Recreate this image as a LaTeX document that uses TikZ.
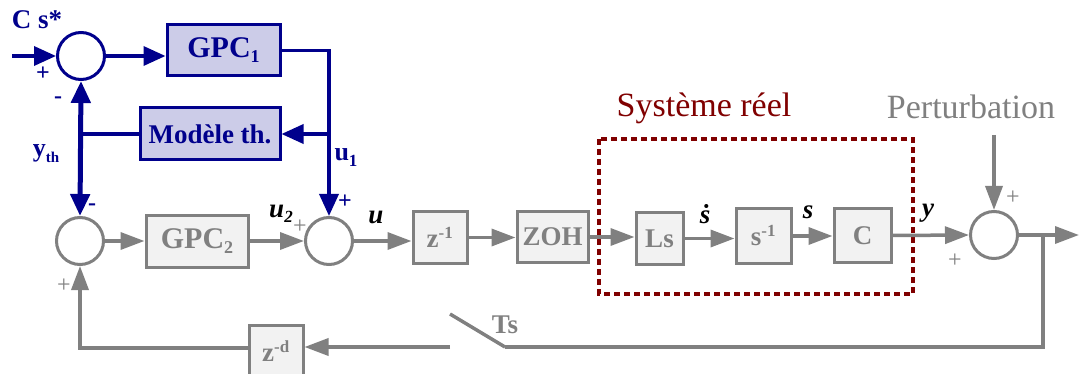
\documentclass[tikz,border=0pt]{standalone}
\usepackage{fontspec}
\setmainfont{Liberation Serif}
\usetikzlibrary{arrows.meta,calc}
\definecolor{navyc}{RGB}{0,0,140}
\definecolor{grayc}{RGB}{128,128,128}
\definecolor{lav}{RGB}{204,204,232}
\definecolor{boxfill}{RGB}{242,242,242}
\definecolor{darkredc}{RGB}{128,0,0}
\newcommand\fsz[1]{\fontsize{#1}{#1}\selectfont}
\begin{document}
\begin{tikzpicture}[x=1pt,y=-1pt,
  navyline/.style={draw=navyc, line width=3.5pt},
  grayline/.style={draw=grayc, line width=3.5pt},
  narrow/.style={-{Triangle[length=22pt,width=19pt]}},
  garrow/.style={-{Triangle[length=24pt,width=17pt]}},
  bluebox/.style={draw=navyc, fill=lav, line width=3pt, text=navyc, font=\fsz{27}\bfseries, inner sep=0pt},
  graybox/.style={draw=grayc, fill=boxfill, line width=3pt, text=grayc, font=\fsz{27}\bfseries, inner sep=0pt},
  sumn/.style={circle, draw=navyc, fill=white, line width=3pt, minimum size=47pt, inner sep=0pt},
  sumg/.style={circle, draw=grayc, fill=white, line width=3pt, minimum size=47pt, inner sep=0pt},
  nlab/.style={text=navyc, font=\fsz{26}\bfseries, inner sep=0pt},
  glab/.style={text=grayc, font=\fsz{24}, inner sep=0pt},
  blab/.style={text=black, font=\fsz{27}\bfseries\itshape, inner sep=0pt}
]
\useasboundingbox (0,0) rectangle (1079,374);

% nodes
\node[sumn] (s1) at (81,56) {};
\node[bluebox, font=\fsz{30}\bfseries, minimum width=113pt, minimum height=51pt] (g1) at (223.5,50.5) {GPC\raisebox{-5pt}{\fsz{18}\bfseries 1}};
\node[bluebox, minimum width=140pt, minimum height=52pt] (mod) at (210,134) {Modèle th.};
\node[sumg] (s3) at (80,241) {};
\node[graybox, font=\fsz{30}\bfseries, minimum width=102pt, minimum height=51pt] (g2) at (197,241.5) {GPC\raisebox{-5pt}{\fsz{18}\bfseries 2}};
\node[sumg] (s2) at (329,241) {};
\node[graybox, minimum width=54pt, minimum height=51pt] (z1) at (440,237.5) {z\textsuperscript{\fsz{17}-1}};
\node[graybox, minimum width=71pt, minimum height=50pt] (zoh) at (552.5,237) {ZOH};
\node[graybox, minimum width=47pt, minimum height=51pt] (ls) at (659.5,238.5) {Ls};
\node[graybox, minimum width=55pt, minimum height=54pt] (si) at (763.5,236) {s\textsuperscript{\fsz{17}-1}};
\node[graybox, minimum width=57pt, minimum height=53pt] (cb) at (862.5,235.5) {C};
\node[sumg] (s4) at (994,235) {};
\node[graybox, minimum width=54pt, minimum height=52pt] (zd) at (276,351) {z\textsuperscript{\fsz{17}-d}};

\coordinate (in) at (12,56);
\coordinate (out) at (1079,235);
\coordinate (j3) at (1043,235);
\coordinate (sw) at (505,347);
\coordinate (swt) at (450,314);
\coordinate (swl) at (450,347);
\coordinate (p0) at (994,135);
\coordinate (fb) at (83,348);

% dashed system box
\draw[draw=darkredc, line width=4pt, dash pattern=on 6pt off 4pt] (599,139) rectangle (913,294);

% navy connectors
\draw[navyline, narrow] (in) -- (s1.west);
\draw[navyline, narrow] (s1.east) -- (s1.east -| g1.west);
\draw[navyline, narrow] (g1.east) -| (s2.north);
\draw[navyline, narrow] (s2.north |- mod.east) -- (mod.east);
\draw[navyline] (mod.west) -- (mod.west -| s1.south);
\draw[navyline, line width=5pt, {Triangle[length=22pt,width=19pt]}-{Triangle[length=22pt,width=19pt]}] (s1.south) -- (s3.north);

% gray connectors
\draw[grayline, garrow] (s3.east) -- (g2.west |- s3.east);
\draw[grayline, garrow] (g2.east |- s2.west) -- (s2.west);
\draw[grayline, garrow] (s2.east) -- (z1.west |- s2.east);
\draw[grayline, garrow] (z1.east) -- (zoh.west |- z1.east);
\draw[grayline, garrow] (zoh.east) -- (ls.west |- zoh.east);
\draw[grayline, garrow] (ls.east) -- (si.west |- ls.east);
\draw[grayline, garrow] (si.east) -- (cb.west |- si.east);
\draw[grayline, garrow] (cb.east) -- (s4.west);
\draw[grayline, garrow] (s4.east) -- (out);
\draw[grayline, garrow] (p0) -- (s4.north);
\draw[grayline] (j3) |- (sw);
\draw[grayline] (sw) -- (swt);
\draw[grayline, garrow] (swl) -- (zd.east |- swl);
\draw[grayline, garrow] (zd.west |- fb) -| (s3.south);

% labels
\node[nlab, font=\fsz{27}\bfseries] (lcs) at (37,20) {C s*};
\node[nlab, font=\fsz{24}\bfseries] (lp1) at (43,74) {+};
\node[nlab, font=\fsz{24}\bfseries] (lm1) at (58,100) {-};
\node[nlab] (lyth) at (46,154) {y\raisebox{-6pt}{\fsz{15}\bfseries th}};
\node[nlab] (lu1) at (346,158) {u\raisebox{-6pt}{\fsz{17}\bfseries 1}};
\node[nlab, font=\fsz{24}\bfseries] (lp2) at (345,202) {+};
\node[nlab, font=\fsz{24}\bfseries] (lm3) at (92,207) {-};
\node[glab] (lp3) at (64,286) {+};
\node[glab] (lp4) at (300,227) {+};
\node[glab] (lp5) at (1013,198) {+};
\node[glab] (lp6) at (955,261) {+};
\node[blab] (lu2) at (281,214) {u\raisebox{-5pt}{\fsz{17}\bfseries 2}};
\node[blab] (lu) at (376,217) {u};
\node[blab] (lsd) at (705,214) {ṡ};
\node[blab] (ls2) at (808,212) {s};
\node[blab] (ly) at (928,213) {y};
\node[text=grayc, font=\fsz{27}\bfseries, inner sep=0pt] (lts) at (505,325) {Ts};
\node[text=darkredc, font=\fsz{34}, inner sep=0pt] (lsys) at (704,108) {Système réel};
\node[text=grayc, font=\fsz{34}, inner sep=0pt] (lpert) at (971,107) {Perturbation};
\end{tikzpicture}
\end{document}
